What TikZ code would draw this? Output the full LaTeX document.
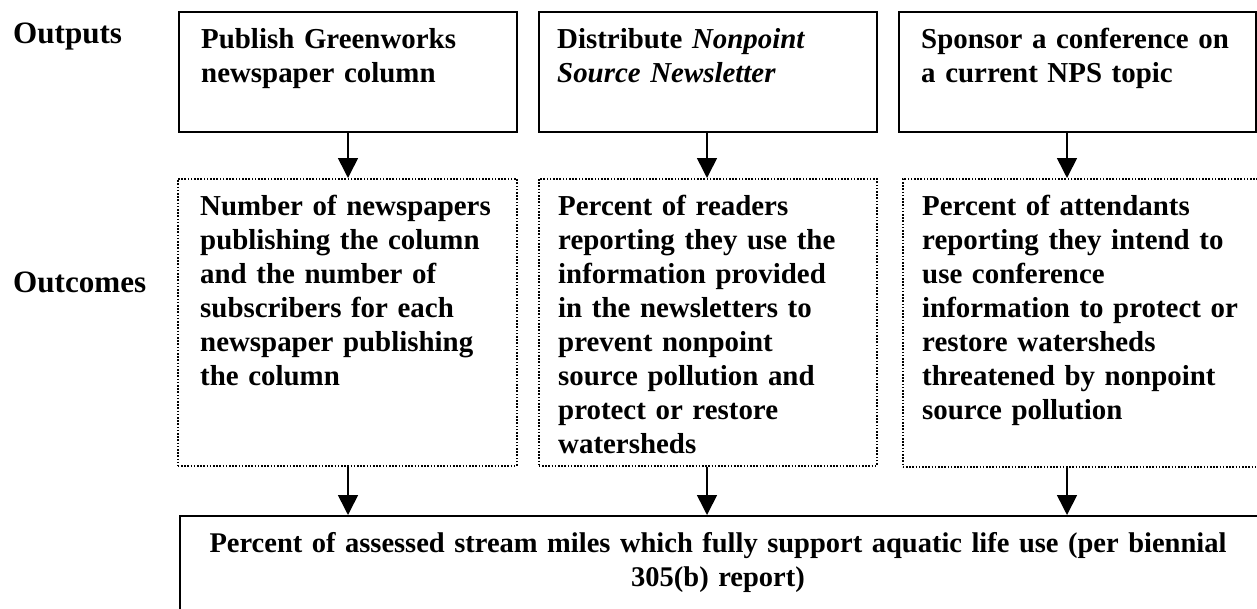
\documentclass[tikz,border=0pt]{standalone}
\usepackage{fontspec}
\setmainfont{Liberation Serif}
\usetikzlibrary{arrows.meta,calc}
\tikzset{
  solidbox/.style={draw, line width=2pt, inner sep=0pt},
  dotbox/.style={draw, line width=1.6pt, dash pattern=on 1.6pt off 1.6pt, inner sep=0pt},
  txt/.style={anchor=base west, inner sep=0pt, text width=340pt, align=left, font=\fontsize{28.9}{34}\selectfont\bfseries},
  lbl/.style={txt, font=\fontsize{31.1}{34}\selectfont\bfseries},
  ctxt/.style={anchor=base, inner sep=0pt, text width=1070pt, align=center, font=\fontsize{28.5}{34}\selectfont\bfseries},
  arr/.style={line width=1.6pt, -{Triangle[width=20pt,length=20pt]}}
}
\begin{document}
\begin{tikzpicture}[x=1pt,y=-1pt]
\useasboundingbox (0,0) rectangle (1257,608);
\clip (0,0) rectangle (1257,608);
% boxes
\node[solidbox, minimum width=338pt, minimum height=120pt, anchor=north west] (o1) at (178,11) {};
\node[solidbox, minimum width=338pt, minimum height=120pt, anchor=north west] (o2) at (538,11) {};
\node[solidbox, minimum width=357pt, minimum height=120pt, anchor=north west] (o3) at (898,11) {};
\node[dotbox, minimum width=339pt, minimum height=287pt, anchor=north west] (c1) at (177,178) {};
\node[dotbox, minimum width=338pt, minimum height=287pt, anchor=north west] (c2) at (538,178) {};
\node[dotbox, minimum width=360pt, minimum height=288pt, anchor=north west] (c3) at (902,178) {};
\node[solidbox, minimum width=1080pt, minimum height=100pt, anchor=north west] (b) at (179,515) {};
% labels
\node[lbl] (lout) at (13,43) {Outputs};
\node[lbl] (linc) at (13,292) {Outcomes};
% output texts
\node[txt] (t1) at (201,48) {Publish Greenworks\\newspaper column};
\node[txt] (t2) at (557,48) {Distribute \textit{Nonpoint}\\\textit{Source Newsletter}};
\node[txt] (t3) at (921,48) {Sponsor a conference on\\a current NPS topic};
% outcome texts
\node[txt] (u1) at (200,215) {Number of newspapers\\publishing the column\\and the number of\\subscribers for each\\newspaper publishing\\the column};
\node[txt] (u2) at (558,215) {Percent of readers\\reporting they use the\\information provided\\in the newsletters to\\prevent nonpoint\\source pollution and\\protect or restore\\watersheds};
\node[txt] (u3) at (922,215) {Percent of attendants\\reporting they intend to\\use conference\\information to protect or\\restore watersheds\\threatened by nonpoint\\source pollution};
% bottom text
\node[ctxt] (bt) at (718,552) {Percent of assessed stream miles which fully support aquatic life use (per biennial\\305(b) report)};
% arrow columns
\coordinate (a1) at (348,0);
\coordinate (a2) at (707,0);
\coordinate (a3) at (1067,0);
\draw[arr] (o1.south -| a1) -- (c1.north -| a1);
\draw[arr] (o2.south -| a2) -- (c2.north -| a2);
\draw[arr] (o3.south -| a3) -- (c3.north -| a3);
\draw[arr] (c1.south -| a1) -- (b.north -| a1);
\draw[arr] (c2.south -| a2) -- (b.north -| a2);
\draw[arr] (c3.south -| a3) -- (b.north -| a3);
\end{tikzpicture}
\end{document}
